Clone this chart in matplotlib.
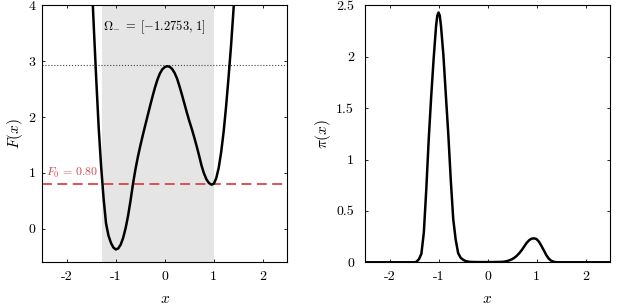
import matplotlib
matplotlib.use("Agg")
import matplotlib.pyplot as plt

# potential F(x)
x_f = [-1.50, -1.45, -1.40, -1.35, -1.30, -1.25, -1.20, -1.15, -1.10, -1.05,
       -1.00, -0.95, -0.90, -0.85, -0.80, -0.75, -0.70, -0.65, -0.60, -0.55,
       -0.50, -0.45, -0.40, -0.35, -0.30, -0.25, -0.20, -0.15, -0.10, -0.05,
       0.00, 0.05, 0.10, 0.15, 0.20, 0.25, 0.30, 0.35, 0.40, 0.45,
       0.50, 0.55, 0.60, 0.65, 0.70, 0.75, 0.80, 0.85, 0.90, 0.95,
       1.00, 1.05, 1.10, 1.15, 1.20, 1.25, 1.30, 1.35, 1.40, 1.45]
f_vals = [4.62, 3.63, 2.69, 1.82, 1.12, 0.55, 0.10, -0.12, -0.25, -0.335,
          -0.37, -0.352, -0.283, -0.162, 0.01, 0.23, 0.50, 0.80, 1.06, 1.285,
          1.485, 1.67, 1.85, 2.025, 2.20, 2.37, 2.53, 2.67, 2.78, 2.855,
          2.895, 2.91, 2.90, 2.86, 2.79, 2.69, 2.55, 2.40, 2.24, 2.08,
          1.93, 1.79, 1.64, 1.48, 1.31, 1.13, 0.99, 0.885, 0.82, 0.79,
          0.805, 0.906, 1.09, 1.37, 1.73, 2.18, 2.70, 3.25, 3.89, 4.63]

# density pi(x)
x_pi = [-2.50, -1.50, -1.45, -1.40, -1.35, -1.30, -1.25, -1.20, -1.15, -1.10,
        -1.05, -1.025, -1.00, -0.975, -0.95, -0.90, -0.85, -0.80, -0.75, -0.70,
        -0.65, -0.60, -0.55, -0.50, -0.45, -0.40, -0.35, -0.30, -0.20, -0.10,
        0.00, 0.10, 0.20, 0.30, 0.35, 0.40, 0.45, 0.50, 0.55, 0.60,
        0.65, 0.70, 0.75, 0.80, 0.85, 0.90, 0.95, 1.00, 1.05, 1.10,
        1.15, 1.20, 1.25, 1.30, 1.35, 1.40, 1.45, 2.50]
pi_vals = [0.0, 0.0, 0.005, 0.03, 0.083, 0.29, 0.71, 1.20, 1.61, 1.98,
           2.30, 2.40, 2.43, 2.40, 2.30, 2.01, 1.62, 1.24, 0.80, 0.42,
           0.22, 0.09, 0.045, 0.025, 0.013, 0.007, 0.004, 0.003, 0.002, 0.002,
           0.002, 0.002, 0.003, 0.004, 0.007, 0.012, 0.02, 0.03, 0.045, 0.065,
           0.09, 0.12, 0.155, 0.19, 0.215, 0.23, 0.233, 0.226, 0.20, 0.16,
           0.115, 0.07, 0.035, 0.015, 0.005, 0.001, 0.0, 0.0]

omega_lo, omega_hi = -1.2753, 1.0
f0 = 0.80
f_barrier = 2.93

x_ticks = [-2, -1, 0, 1, 2]
x_tick_labels = ['-2', '-1', '0', '1', '2']
f_ticks = [0, 1, 2, 3, 4]
f_tick_labels = ['0', '1', '2', '3', '4']
pi_ticks = [0, 0.5, 1, 1.5, 2, 2.5]
pi_tick_labels = ['0', '0.5', '1', '1.5', '2', '2.5']

plt.rcParams['font.family'] = 'serif'
plt.rcParams['font.serif'] = ['cmr10']
plt.rcParams['mathtext.fontset'] = 'cm'
plt.rcParams['axes.unicode_minus'] = False

red = '#d9434e'

fig = plt.figure(figsize=(6.24, 3.07), dpi=100)
ax1 = fig.add_axes([0.0678, 0.1456, 0.3926, 0.8371])
ax2 = fig.add_axes([0.585, 0.1456, 0.3926, 0.8371])

# left: potential with the region Omega_-
ax1.axvspan(omega_lo, omega_hi, color='#e5e5e5', lw=0, zorder=0)
ax1.axhline(f_barrier, color='#444444', ls=':', lw=0.8, zorder=1)
ax1.axhline(f0, color=red, ls=(0, (5.5, 3.0)), lw=1.3, zorder=1)
ax1.plot(x_f, f_vals, color='k', lw=1.8, zorder=2)
ax1.text(-0.22, 3.6, r'$\Omega_{-}\;=\;[-1.2753,\,1]$', ha='center',
         va='center', fontsize=9)
ax1.text(-2.43, 0.99, r'$F_0\,=\,0.80$', color=red, ha='left', va='center',
         fontsize=8.5)
ax1.set_xlim(-2.5, 2.5)
ax1.set_ylim(-0.6, 4)
ax1.set_yticks(f_ticks)
ax1.set_yticklabels(f_tick_labels)
ax1.set_ylabel(r'$F(x)$', fontsize=11)
ax1.yaxis.set_label_coords(-0.072, 0.5)
ax1.tick_params(axis='y', pad=5)

# right: density
ax2.plot(x_pi, pi_vals, color='k', lw=1.8)
ax2.set_xlim(-2.5, 2.5)
ax2.set_ylim(0, 2.5)
ax2.set_yticks(pi_ticks)
ax2.set_yticklabels(pi_tick_labels)
ax2.set_ylabel(r'$\pi(x)$', fontsize=11)
ax2.yaxis.set_label_coords(-0.13, 0.5)
ax2.tick_params(axis='y', pad=8)

for ax in (ax1, ax2):
    ax.set_xticks(x_ticks)
    ax.set_xticklabels(x_tick_labels)
    ax.set_xlabel(r'$x$', fontsize=11)
    ax.xaxis.set_label_coords(0.5, -0.115)
    ax.tick_params(direction='in', top=True, right=True, length=2.5,
                   width=0.6, labelsize=10)
    ax.tick_params(axis='x', pad=6)
    for sp in ax.spines.values():
        sp.set_linewidth(0.8)

plt.savefig('out.png', dpi=100)
